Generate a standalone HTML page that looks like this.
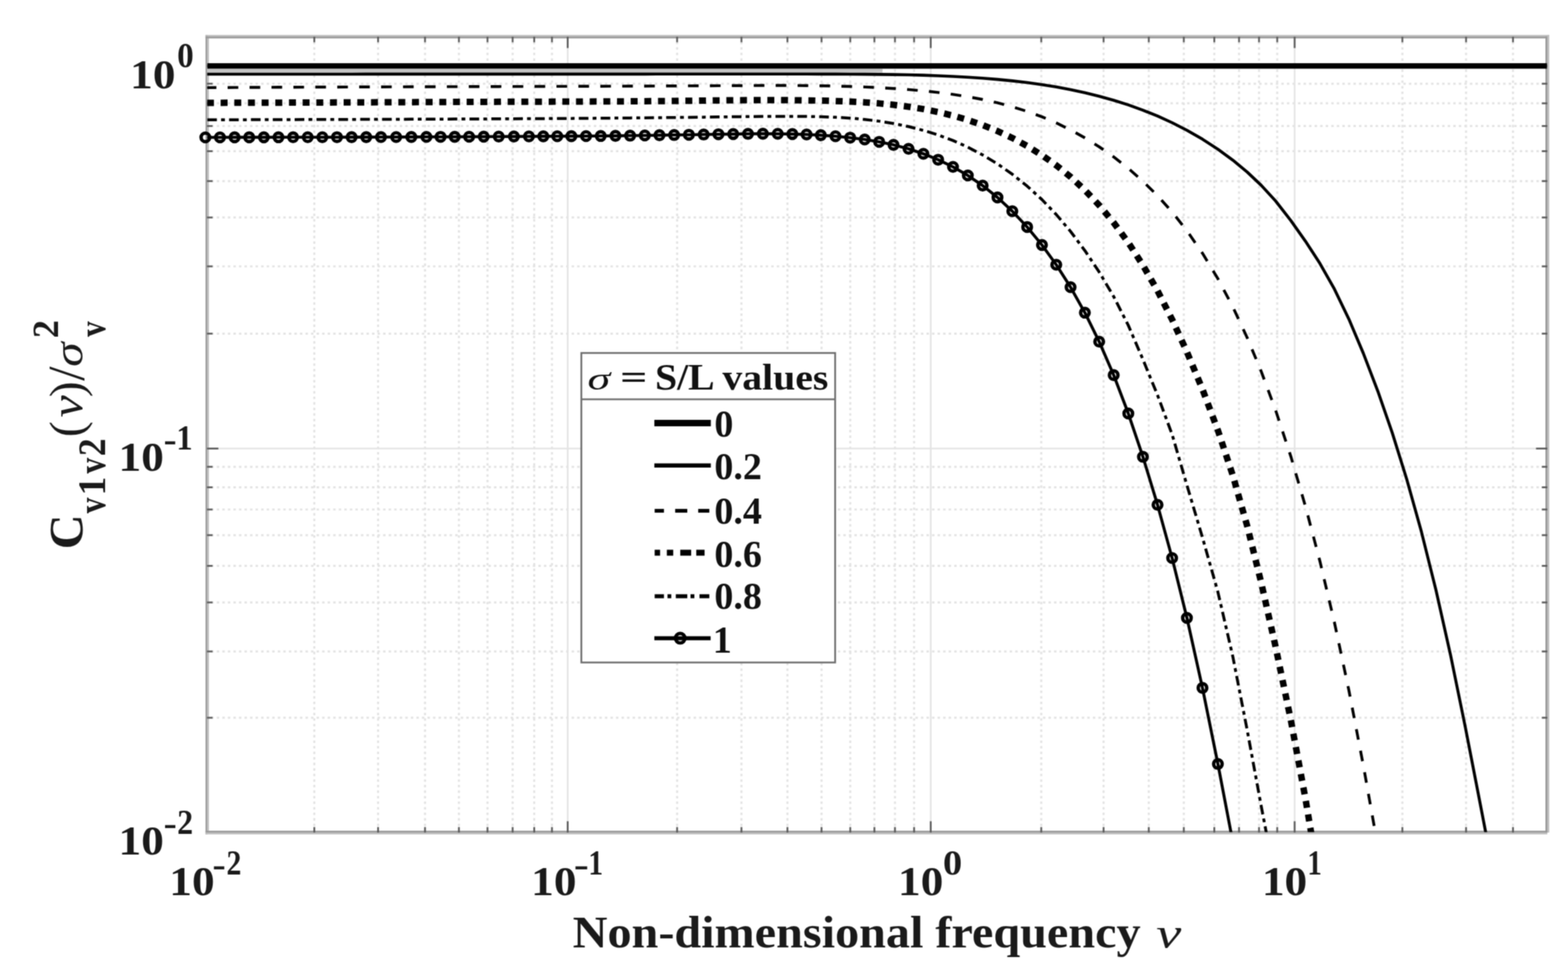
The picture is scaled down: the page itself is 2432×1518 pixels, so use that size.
<!DOCTYPE html><html><head><meta charset="utf-8"><title>C_v1v2 vs non-dimensional frequency</title><style>html,body{margin:0;padding:0;background:#fff;overflow:hidden}svg{display:block}</style></head><body><svg width="2432" height="1518" viewBox="0 0 2432 1518"><defs><filter id="soft" x="0" y="0" width="1" height="1" color-interpolation-filters="sRGB"><feConvolveMatrix order="3" kernelMatrix="1 2 1 2 4 2 1 2 1" divisor="16" edgeMode="duplicate"/></filter></defs><g filter="url(#soft)"><rect width="2432" height="1518" fill="#fff"/><g stroke="#e3e3e3" stroke-width="3.2" stroke-dasharray="3.8 4.8"><line x1="487.5" y1="56.0" x2="487.5" y2="1290.5"/><line x1="586.4" y1="56.0" x2="586.4" y2="1290.5"/><line x1="659.2" y1="56.0" x2="659.2" y2="1290.5"/><line x1="711.8" y1="56.0" x2="711.8" y2="1290.5"/><line x1="756.1" y1="56.0" x2="756.1" y2="1290.5"/><line x1="795.1" y1="56.0" x2="795.1" y2="1290.5"/><line x1="828.6" y1="56.0" x2="828.6" y2="1290.5"/><line x1="856.1" y1="56.0" x2="856.1" y2="1290.5"/><line x1="1050.2" y1="56.0" x2="1050.2" y2="1290.5"/><line x1="1150" y1="56.0" x2="1150" y2="1290.5"/><line x1="1221.3" y1="56.0" x2="1221.3" y2="1290.5"/><line x1="1274.2" y1="56.0" x2="1274.2" y2="1290.5"/><line x1="1318.8" y1="56.0" x2="1318.8" y2="1290.5"/><line x1="1356.2" y1="56.0" x2="1356.2" y2="1290.5"/><line x1="1388.1" y1="56.0" x2="1388.1" y2="1290.5"/><line x1="1417.8" y1="56.0" x2="1417.8" y2="1290.5"/><line x1="1615" y1="56.0" x2="1615" y2="1290.5"/><line x1="1711.7" y1="56.0" x2="1711.7" y2="1290.5"/><line x1="1781.8" y1="56.0" x2="1781.8" y2="1290.5"/><line x1="1836.1" y1="56.0" x2="1836.1" y2="1290.5"/><line x1="1883.4" y1="56.0" x2="1883.4" y2="1290.5"/><line x1="1921.8" y1="56.0" x2="1921.8" y2="1290.5"/><line x1="1952.8" y1="56.0" x2="1952.8" y2="1290.5"/><line x1="1981" y1="56.0" x2="1981" y2="1290.5"/><line x1="2175.1" y1="56.0" x2="2175.1" y2="1290.5"/><line x1="2273.9" y1="56.0" x2="2273.9" y2="1290.5"/><line x1="2346.7" y1="56.0" x2="2346.7" y2="1290.5"/><line x1="319.0" y1="129.8" x2="2399.5" y2="129.8"/><line x1="319.0" y1="160.2" x2="2399.5" y2="160.2"/><line x1="319.0" y1="195.4" x2="2399.5" y2="195.4"/><line x1="319.0" y1="234.4" x2="2399.5" y2="234.4"/><line x1="319.0" y1="280.8" x2="2399.5" y2="280.8"/><line x1="319.0" y1="337.2" x2="2399.5" y2="337.2"/><line x1="319.0" y1="413" x2="2399.5" y2="413"/><line x1="319.0" y1="517.3" x2="2399.5" y2="517.3"/><line x1="319.0" y1="723.8" x2="2399.5" y2="723.8"/><line x1="319.0" y1="755.6" x2="2399.5" y2="755.6"/><line x1="319.0" y1="790" x2="2399.5" y2="790"/><line x1="319.0" y1="829.8" x2="2399.5" y2="829.8"/><line x1="319.0" y1="877.4" x2="2399.5" y2="877.4"/><line x1="319.0" y1="934.1" x2="2399.5" y2="934.1"/><line x1="319.0" y1="1010.1" x2="2399.5" y2="1010.1"/><line x1="319.0" y1="1112.9" x2="2399.5" y2="1112.9"/></g>
<g stroke="#e4e4e4" stroke-width="2.6"><line x1="880.5" y1="56.0" x2="880.5" y2="1290.5"/><line x1="1443.6" y1="56.0" x2="1443.6" y2="1290.5"/><line x1="2008.0" y1="56.0" x2="2008.0" y2="1290.5"/><line x1="319.0" y1="102.3" x2="2399.5" y2="102.3"/><line x1="319.0" y1="695.5" x2="2399.5" y2="695.5"/></g>
<rect x="318.8" y="54.2" width="2.8" height="1239.5" fill="#989898"/><rect x="321.6" y="56.5" width="2.5" height="1234.4" fill="#bebebe"/><rect x="318.8" y="54.2" width="2084.1" height="2.4" fill="#bebebe"/><rect x="318.8" y="56.5" width="2081.1" height="3.0" fill="#989898"/><rect x="2397.0" y="56.5" width="2.9" height="1234.4" fill="#989898"/><rect x="2399.9" y="54.2" width="3.0" height="1236.7" fill="#bebebe"/><rect x="318.8" y="1288.1" width="2081.1" height="2.8" fill="#989898"/><rect x="318.8" y="1290.9" width="2081.1" height="2.8" fill="#bebebe"/>
<g stroke="#5c5c5c" stroke-width="2.8"><line x1="487.5" y1="1290.9" x2="487.5" y2="1282.4"/><line x1="487.5" y1="57.0" x2="487.5" y2="65.5"/><line x1="586.4" y1="1290.9" x2="586.4" y2="1282.4"/><line x1="586.4" y1="57.0" x2="586.4" y2="65.5"/><line x1="659.2" y1="1290.9" x2="659.2" y2="1282.4"/><line x1="659.2" y1="57.0" x2="659.2" y2="65.5"/><line x1="711.8" y1="1290.9" x2="711.8" y2="1282.4"/><line x1="711.8" y1="57.0" x2="711.8" y2="65.5"/><line x1="756.1" y1="1290.9" x2="756.1" y2="1282.4"/><line x1="756.1" y1="57.0" x2="756.1" y2="65.5"/><line x1="795.1" y1="1290.9" x2="795.1" y2="1282.4"/><line x1="795.1" y1="57.0" x2="795.1" y2="65.5"/><line x1="828.6" y1="1290.9" x2="828.6" y2="1282.4"/><line x1="828.6" y1="57.0" x2="828.6" y2="65.5"/><line x1="856.1" y1="1290.9" x2="856.1" y2="1282.4"/><line x1="856.1" y1="57.0" x2="856.1" y2="65.5"/><line x1="880.5" y1="1290.9" x2="880.5" y2="1273.4"/><line x1="880.5" y1="57.0" x2="880.5" y2="74.5"/><line x1="1050.2" y1="1290.9" x2="1050.2" y2="1282.4"/><line x1="1050.2" y1="57.0" x2="1050.2" y2="65.5"/><line x1="1150" y1="1290.9" x2="1150" y2="1282.4"/><line x1="1150" y1="57.0" x2="1150" y2="65.5"/><line x1="1221.3" y1="1290.9" x2="1221.3" y2="1282.4"/><line x1="1221.3" y1="57.0" x2="1221.3" y2="65.5"/><line x1="1274.2" y1="1290.9" x2="1274.2" y2="1282.4"/><line x1="1274.2" y1="57.0" x2="1274.2" y2="65.5"/><line x1="1318.8" y1="1290.9" x2="1318.8" y2="1282.4"/><line x1="1318.8" y1="57.0" x2="1318.8" y2="65.5"/><line x1="1356.2" y1="1290.9" x2="1356.2" y2="1282.4"/><line x1="1356.2" y1="57.0" x2="1356.2" y2="65.5"/><line x1="1388.1" y1="1290.9" x2="1388.1" y2="1282.4"/><line x1="1388.1" y1="57.0" x2="1388.1" y2="65.5"/><line x1="1417.8" y1="1290.9" x2="1417.8" y2="1282.4"/><line x1="1417.8" y1="57.0" x2="1417.8" y2="65.5"/><line x1="1443.6" y1="1290.9" x2="1443.6" y2="1273.4"/><line x1="1443.6" y1="57.0" x2="1443.6" y2="74.5"/><line x1="1615" y1="1290.9" x2="1615" y2="1282.4"/><line x1="1615" y1="57.0" x2="1615" y2="65.5"/><line x1="1711.7" y1="1290.9" x2="1711.7" y2="1282.4"/><line x1="1711.7" y1="57.0" x2="1711.7" y2="65.5"/><line x1="1781.8" y1="1290.9" x2="1781.8" y2="1282.4"/><line x1="1781.8" y1="57.0" x2="1781.8" y2="65.5"/><line x1="1836.1" y1="1290.9" x2="1836.1" y2="1282.4"/><line x1="1836.1" y1="57.0" x2="1836.1" y2="65.5"/><line x1="1883.4" y1="1290.9" x2="1883.4" y2="1282.4"/><line x1="1883.4" y1="57.0" x2="1883.4" y2="65.5"/><line x1="1921.8" y1="1290.9" x2="1921.8" y2="1282.4"/><line x1="1921.8" y1="57.0" x2="1921.8" y2="65.5"/><line x1="1952.8" y1="1290.9" x2="1952.8" y2="1282.4"/><line x1="1952.8" y1="57.0" x2="1952.8" y2="65.5"/><line x1="1981" y1="1290.9" x2="1981" y2="1282.4"/><line x1="1981" y1="57.0" x2="1981" y2="65.5"/><line x1="2008" y1="1290.9" x2="2008" y2="1273.4"/><line x1="2008" y1="57.0" x2="2008" y2="74.5"/><line x1="2175.1" y1="1290.9" x2="2175.1" y2="1282.4"/><line x1="2175.1" y1="57.0" x2="2175.1" y2="65.5"/><line x1="2273.9" y1="1290.9" x2="2273.9" y2="1282.4"/><line x1="2273.9" y1="57.0" x2="2273.9" y2="65.5"/><line x1="2346.7" y1="1290.9" x2="2346.7" y2="1282.4"/><line x1="2346.7" y1="57.0" x2="2346.7" y2="65.5"/><line x1="321.2" y1="102.3" x2="338.7" y2="102.3"/><line x1="2399.9" y1="102.3" x2="2382.4" y2="102.3"/><line x1="321.2" y1="129.8" x2="329.7" y2="129.8"/><line x1="2399.9" y1="129.8" x2="2391.4" y2="129.8"/><line x1="321.2" y1="160.2" x2="329.7" y2="160.2"/><line x1="2399.9" y1="160.2" x2="2391.4" y2="160.2"/><line x1="321.2" y1="195.4" x2="329.7" y2="195.4"/><line x1="2399.9" y1="195.4" x2="2391.4" y2="195.4"/><line x1="321.2" y1="234.4" x2="329.7" y2="234.4"/><line x1="2399.9" y1="234.4" x2="2391.4" y2="234.4"/><line x1="321.2" y1="280.8" x2="329.7" y2="280.8"/><line x1="2399.9" y1="280.8" x2="2391.4" y2="280.8"/><line x1="321.2" y1="337.2" x2="329.7" y2="337.2"/><line x1="2399.9" y1="337.2" x2="2391.4" y2="337.2"/><line x1="321.2" y1="413" x2="329.7" y2="413"/><line x1="2399.9" y1="413" x2="2391.4" y2="413"/><line x1="321.2" y1="517.3" x2="329.7" y2="517.3"/><line x1="2399.9" y1="517.3" x2="2391.4" y2="517.3"/><line x1="321.2" y1="695.5" x2="338.7" y2="695.5"/><line x1="2399.9" y1="695.5" x2="2382.4" y2="695.5"/><line x1="321.2" y1="723.8" x2="329.7" y2="723.8"/><line x1="2399.9" y1="723.8" x2="2391.4" y2="723.8"/><line x1="321.2" y1="755.6" x2="329.7" y2="755.6"/><line x1="2399.9" y1="755.6" x2="2391.4" y2="755.6"/><line x1="321.2" y1="790" x2="329.7" y2="790"/><line x1="2399.9" y1="790" x2="2391.4" y2="790"/><line x1="321.2" y1="829.8" x2="329.7" y2="829.8"/><line x1="2399.9" y1="829.8" x2="2391.4" y2="829.8"/><line x1="321.2" y1="877.4" x2="329.7" y2="877.4"/><line x1="2399.9" y1="877.4" x2="2391.4" y2="877.4"/><line x1="321.2" y1="934.1" x2="329.7" y2="934.1"/><line x1="2399.9" y1="934.1" x2="2391.4" y2="934.1"/><line x1="321.2" y1="1010.1" x2="329.7" y2="1010.1"/><line x1="2399.9" y1="1010.1" x2="2391.4" y2="1010.1"/><line x1="321.2" y1="1112.9" x2="329.7" y2="1112.9"/><line x1="2399.9" y1="1112.9" x2="2391.4" y2="1112.9"/></g>
<clipPath id="cp"><rect x="321.4" y="56.0" width="2078.2" height="1234.2"/></clipPath>
<g clip-path="url(#cp)" fill="none" stroke="#000" stroke-linejoin="round"><rect x="321.4" y="106.6" width="1047.4" height="6.0" fill="#c4c4c4" stroke="none"/><line x1="321.4" y1="102.3" x2="2399.6" y2="102.3" stroke-width="8.6"/><path d="M318.50,115.03 L341.18,115.01 L363.87,115.00 L386.55,114.99 L409.23,114.97 L431.92,114.96 L454.60,114.95 L477.28,114.95 L499.97,114.94 L522.66,114.93 L545.35,114.93 L568.05,114.92 L590.90,114.92 L614.45,114.91 L637.99,114.91 L661.37,114.90 L683.30,114.90 L705.23,114.90 L727.63,114.89 L750.24,114.89 L773.54,114.88 L797.06,114.88 L820.40,114.88 L842.69,114.87 L864.34,114.87 L886.19,114.86 L908.97,114.86 L931.75,114.85 L954.53,114.84 L977.30,114.83 L1000.08,114.83 L1022.86,114.82 L1045.63,114.81 L1068.51,114.79 L1091.41,114.78 L1114.31,114.77 L1137.21,114.75 L1160.17,114.74 L1183.23,114.73 L1206.29,114.73 L1229.00,114.75 L1251.05,114.78 L1273.11,114.83 L1295.83,114.90 L1318.59,114.99 L1341.16,115.13 L1363.62,115.33 L1385.84,115.63 L1409.18,116.06 L1432.21,116.65 L1455.10,117.43 L1478.11,118.43 L1501.11,119.68 L1524.12,121.22 L1547.12,123.09 L1570.13,125.36 L1593.13,128.06 L1616.10,131.24 L1638.29,134.82 L1660.47,138.97 L1682.66,143.73 L1704.85,149.17 L1727.37,155.46 L1750.04,162.65 L1772.71,170.79 L1795.36,179.96 L1818.00,190.27 L1840.94,201.99 L1865.07,215.85 L1888.98,231.34 L1912.15,248.31 L1934.41,266.76 L1956.11,287.23 L1978.38,311.51 L2002.04,341.85 L2024.82,374.05 L2047.25,408.52 L2069.68,448.24 L2092.11,494.68 L2114.53,547.73 L2136.96,606.32 L2159.39,671.01 L2181.89,743.09 L2204.56,824.21 L2227.23,915.01 L2249.90,1016.09 L2272.57,1126.60 L2296.06,1247.47 L2319.60,1369.75" stroke-width="4.6"/><path d="M318.50,135.93 L341.18,135.79 L363.87,135.65 L386.55,135.53 L409.23,135.41 L431.92,135.30 L454.60,135.20 L477.28,135.10 L499.97,135.01 L522.66,134.93 L545.35,134.84 L568.05,134.77 L590.90,134.69 L614.45,134.62 L637.99,134.55 L661.37,134.49 L683.30,134.43 L705.23,134.37 L727.63,134.31 L750.24,134.24 L773.54,134.18 L797.06,134.12 L820.40,134.05 L842.69,133.99 L864.34,133.92 L886.19,133.86 L908.97,133.78 L931.75,133.71 L954.53,133.63 L977.30,133.54 L1000.08,133.45 L1022.86,133.35 L1045.63,133.25 L1068.51,133.13 L1091.41,133.02 L1114.31,132.89 L1137.21,132.76 L1160.17,132.63 L1183.23,132.54 L1206.29,132.50 L1229.00,132.56 L1251.05,132.71 L1273.11,132.99 L1295.83,133.44 L1318.59,134.07 L1341.16,134.90 L1363.62,135.95 L1385.84,137.23 L1409.18,138.89 L1432.21,140.89 L1455.10,143.33 L1478.11,146.32 L1501.11,149.93 L1524.12,154.26 L1547.12,159.41 L1570.13,165.51 L1593.13,172.70 L1616.10,181.12 L1638.29,190.57 L1660.47,201.42 L1682.66,213.72 L1704.85,227.58 L1727.37,243.35 L1750.04,261.13 L1772.71,281.07 L1795.36,303.46 L1818.00,328.74 L1840.94,357.81 L1865.07,392.67 L1888.98,432.19 L1912.15,475.92 L1934.41,523.57 L1956.11,575.76 L1978.38,635.70 L2002.04,707.48 L2024.82,785.25 L2047.25,870.33 L2069.68,964.93 L2092.11,1070.20 L2114.53,1186.71 L2136.96,1312.06" stroke-width="4.4" stroke-dasharray="16.5 17.5" stroke-dashoffset="-0.6"/><path d="M318.50,159.43 L341.18,159.39 L363.87,159.35 L386.55,159.29 L409.23,159.23 L431.92,159.17 L454.60,159.09 L477.28,159.02 L499.97,158.93 L522.66,158.85 L545.35,158.76 L568.05,158.67 L590.90,158.57 L614.45,158.48 L637.99,158.38 L661.37,158.28 L683.30,158.20 L705.23,158.11 L727.63,158.03 L750.24,157.94 L773.54,157.86 L797.06,157.79 L820.40,157.72 L842.69,157.66 L864.34,157.59 L886.19,157.52 L908.97,157.43 L931.75,157.34 L954.53,157.22 L977.30,157.08 L1000.08,156.91 L1022.86,156.72 L1045.63,156.49 L1068.51,156.23 L1091.41,155.97 L1114.31,155.71 L1137.21,155.50 L1160.17,155.33 L1183.23,155.24 L1206.29,155.25 L1229.00,155.38 L1251.05,155.63 L1273.11,156.03 L1295.83,156.63 L1318.59,157.50 L1341.16,158.71 L1363.62,160.36 L1385.84,162.53 L1409.18,165.47 L1432.21,169.16 L1455.10,173.71 L1478.11,179.31 L1501.11,186.02 L1524.12,193.96 L1547.12,203.22 L1570.13,213.96 L1593.13,226.37 L1616.10,240.60 L1638.29,256.32 L1660.47,274.26 L1682.66,294.79 L1704.85,318.20 L1727.37,345.25 L1750.04,376.18 L1772.71,411.27 L1795.36,450.88 L1818.00,495.43 L1840.94,545.67 L1865.07,603.68 L1888.98,667.30 L1912.15,737.26 L1934.41,815.47 L1956.11,903.21 L1978.38,1002.36 L2002.04,1116.22 L2024.82,1238.46 L2047.25,1372.99" stroke-width="10" stroke-dasharray="10.8 10.4" stroke-dashoffset="-2.5"/><path d="M318.50,185.85 L341.18,185.77 L363.87,185.70 L386.55,185.62 L409.23,185.55 L431.92,185.49 L454.60,185.42 L477.28,185.36 L499.97,185.29 L522.66,185.23 L545.35,185.16 L568.05,185.09 L590.90,185.02 L614.45,184.95 L637.99,184.87 L661.37,184.79 L683.30,184.70 L705.23,184.62 L727.63,184.52 L750.24,184.42 L773.54,184.30 L797.06,184.18 L820.40,184.05 L842.69,183.92 L864.34,183.78 L886.19,183.63 L908.97,183.46 L931.75,183.28 L954.53,183.09 L977.30,182.89 L1000.08,182.67 L1022.86,182.44 L1045.63,182.19 L1068.51,181.93 L1091.41,181.65 L1114.31,181.35 L1137.21,181.04 L1160.17,180.76 L1183.23,180.53 L1206.29,180.39 L1229.00,180.38 L1251.05,180.55 L1273.11,180.97 L1295.83,181.81 L1318.59,183.17 L1341.16,185.16 L1363.62,187.89 L1385.84,191.47 L1409.18,196.27 L1432.21,202.17 L1455.10,209.30 L1478.11,217.89 L1501.11,228.14 L1524.12,240.17 L1547.12,254.12 L1570.13,270.17 L1593.13,288.55 L1616.10,309.51 L1638.29,332.63 L1660.47,358.89 L1682.66,388.54 L1704.85,421.82 L1727.37,459.87 L1750.04,504.49 L1772.71,557.33 L1795.36,612.71 L1818.00,673.69 L1840.94,752.31 L1865.07,833.48 L1888.98,917.89 L1912.15,1018.14 L1934.41,1132.04 L1956.11,1249.59 L1978.38,1365.54" stroke-width="4.5" stroke-dasharray="15 6.5 5.9 6.5" stroke-dashoffset="-2.9"/><path d="M318.50,213.02 L341.18,212.96 L363.87,212.92 L386.55,212.88 L409.23,212.84 L431.92,212.81 L454.60,212.78 L477.28,212.75 L499.97,212.71 L522.66,212.68 L545.35,212.64 L568.05,212.59 L590.90,212.53 L614.45,212.46 L637.99,212.38 L661.37,212.29 L683.30,212.19 L705.23,212.08 L727.63,211.96 L750.24,211.84 L773.54,211.72 L797.06,211.60 L820.40,211.48 L842.69,211.37 L864.34,211.26 L886.19,211.14 L908.97,210.98 L931.75,210.80 L954.53,210.58 L977.30,210.31 L1000.08,210.01 L1022.86,209.67 L1045.63,209.30 L1068.51,208.93 L1091.41,208.55 L1114.31,208.18 L1137.21,207.83 L1160.17,207.55 L1183.23,207.40 L1206.29,207.47 L1229.00,207.83 L1251.05,208.52 L1273.11,209.61 L1295.83,211.23 L1318.59,213.43 L1341.16,216.28 L1363.62,219.95 L1385.84,224.60 L1409.18,230.79 L1432.21,238.46 L1455.10,247.69 L1478.11,258.77 L1501.11,272.04 L1524.12,287.77 L1547.12,306.17 L1570.13,327.47 L1593.13,351.95 L1616.10,379.85 L1638.29,410.49 L1660.47,445.26 L1682.66,484.80 L1704.85,529.77 L1727.37,581.67 L1750.04,641.15 L1772.71,708.32 L1795.36,782.77 L1818.00,865.24 L1840.94,958.10 L1865.07,1066.64 L1888.98,1184.56 L1912.15,1305.70" stroke-width="4.6"/></g>
<g fill="none" stroke="#000" stroke-width="5.4"><circle cx="318.50" cy="213.02" r="6.6"/><circle cx="341.18" cy="212.96" r="6.6"/><circle cx="363.87" cy="212.92" r="6.6"/><circle cx="386.55" cy="212.88" r="6.6"/><circle cx="409.23" cy="212.84" r="6.6"/><circle cx="431.92" cy="212.81" r="6.6"/><circle cx="454.60" cy="212.78" r="6.6"/><circle cx="477.28" cy="212.75" r="6.6"/><circle cx="499.97" cy="212.71" r="6.6"/><circle cx="522.66" cy="212.68" r="6.6"/><circle cx="545.35" cy="212.64" r="6.6"/><circle cx="568.05" cy="212.59" r="6.6"/><circle cx="590.90" cy="212.53" r="6.6"/><circle cx="614.45" cy="212.46" r="6.6"/><circle cx="637.99" cy="212.38" r="6.6"/><circle cx="661.37" cy="212.29" r="6.6"/><circle cx="683.30" cy="212.19" r="6.6"/><circle cx="705.23" cy="212.08" r="6.6"/><circle cx="727.63" cy="211.96" r="6.6"/><circle cx="750.24" cy="211.84" r="6.6"/><circle cx="773.54" cy="211.72" r="6.6"/><circle cx="797.06" cy="211.60" r="6.6"/><circle cx="820.40" cy="211.48" r="6.6"/><circle cx="842.69" cy="211.37" r="6.6"/><circle cx="864.34" cy="211.26" r="6.6"/><circle cx="886.19" cy="211.14" r="6.6"/><circle cx="908.97" cy="210.98" r="6.6"/><circle cx="931.75" cy="210.80" r="6.6"/><circle cx="954.53" cy="210.58" r="6.6"/><circle cx="977.30" cy="210.31" r="6.6"/><circle cx="1000.08" cy="210.01" r="6.6"/><circle cx="1022.86" cy="209.67" r="6.6"/><circle cx="1045.63" cy="209.30" r="6.6"/><circle cx="1068.51" cy="208.93" r="6.6"/><circle cx="1091.41" cy="208.55" r="6.6"/><circle cx="1114.31" cy="208.18" r="6.6"/><circle cx="1137.21" cy="207.83" r="6.6"/><circle cx="1160.17" cy="207.55" r="6.6"/><circle cx="1183.23" cy="207.40" r="6.6"/><circle cx="1206.29" cy="207.47" r="6.6"/><circle cx="1229.00" cy="207.83" r="6.6"/><circle cx="1251.05" cy="208.52" r="6.6"/><circle cx="1273.11" cy="209.61" r="6.6"/><circle cx="1295.83" cy="211.23" r="6.6"/><circle cx="1318.59" cy="213.43" r="6.6"/><circle cx="1341.16" cy="216.28" r="6.6"/><circle cx="1363.62" cy="219.95" r="6.6"/><circle cx="1385.84" cy="224.60" r="6.6"/><circle cx="1409.18" cy="230.79" r="6.6"/><circle cx="1432.21" cy="238.46" r="6.6"/><circle cx="1455.10" cy="247.69" r="6.6"/><circle cx="1478.11" cy="258.77" r="6.6"/><circle cx="1501.11" cy="272.04" r="6.6"/><circle cx="1524.12" cy="287.77" r="6.6"/><circle cx="1547.12" cy="306.17" r="6.6"/><circle cx="1570.13" cy="327.47" r="6.6"/><circle cx="1593.13" cy="351.95" r="6.6"/><circle cx="1616.10" cy="379.85" r="6.6"/><circle cx="1638.29" cy="410.49" r="6.6"/><circle cx="1660.47" cy="445.26" r="6.6"/><circle cx="1682.66" cy="484.80" r="6.6"/><circle cx="1704.85" cy="529.77" r="6.6"/><circle cx="1727.37" cy="581.67" r="6.6"/><circle cx="1750.04" cy="641.15" r="6.6"/><circle cx="1772.71" cy="708.32" r="6.6"/><circle cx="1795.36" cy="782.77" r="6.6"/><circle cx="1818.00" cy="865.24" r="6.6"/><circle cx="1840.94" cy="958.10" r="6.6"/><circle cx="1865.07" cy="1066.64" r="6.6"/><circle cx="1888.98" cy="1184.56" r="6.6"/></g>
<g fill="#1a1a1a" font-family="Liberation Serif, Times New Roman, serif"><text transform="translate(201.87,136.80) scale(1.1,1)" font-size="64" font-weight="bold">10</text><text transform="translate(274.64,104.10) scale(0.953,1)" font-size="54" font-weight="bold">0</text><text transform="translate(183.87,730.00) scale(1.1,1)" font-size="64" font-weight="bold">10</text><text transform="translate(253.87,699.70) scale(1.1259,1)" font-size="54" font-weight="bold">-</text><text transform="translate(273.46,697.30) scale(0.9362,1)" font-size="54" font-weight="bold">1</text><text transform="translate(183.77,1325.40) scale(1.1,1)" font-size="64" font-weight="bold">10</text><text transform="translate(253.74,1295.10) scale(1.1407,1)" font-size="54" font-weight="bold">-</text><text transform="translate(274.72,1292.70) scale(0.9169,1)" font-size="54" font-weight="bold">2</text><text transform="translate(262.57,1388.30) scale(1.1,1)" font-size="64" font-weight="bold">10</text><text transform="translate(329.52,1358.90) scale(1.1481,1)" font-size="54" font-weight="bold">-</text><text transform="translate(351.15,1356.30) scale(0.8582,1)" font-size="54" font-weight="bold">2</text><text transform="translate(823.87,1388.30) scale(1.1,1)" font-size="64" font-weight="bold">10</text><text transform="translate(889.90,1358.90) scale(1.2963,1)" font-size="54" font-weight="bold">-</text><text transform="translate(912.53,1356.30) scale(0.8488,1)" font-size="54" font-weight="bold">1</text><text transform="translate(1392.87,1388.30) scale(1.1,1)" font-size="64" font-weight="bold">10</text><text transform="translate(1462.61,1356.30) scale(1.1066,1)" font-size="54" font-weight="bold">0</text><text transform="translate(1957.17,1388.30) scale(1.1,1)" font-size="64" font-weight="bold">10</text><text transform="translate(2027.70,1356.30) scale(0.8333,1)" font-size="54" font-weight="bold">1</text><text transform="translate(888.31,1468.50) scale(1.083,1)" font-size="69" font-weight="bold">Non-dimensional frequency</text><text transform="translate(1793.24,1468.50) scale(1.33,1)" font-size="66" font-style="italic">ν</text></g>
<g fill="#1a1a1a" font-family="Liberation Serif, Times New Roman, serif" transform="translate(128.3,849.0) rotate(-90)"><text transform="translate(-2.75,-0.30) scale(1.0,1)" font-size="75" font-weight="bold">C</text><text transform="translate(53.00,34.30) scale(0.8,1)" font-size="61" font-weight="bold">v</text><text transform="translate(80.91,34.30) scale(0.94,1)" font-size="61" font-weight="bold">1</text><text transform="translate(114.70,34.30) scale(0.8,1)" font-size="61" font-weight="bold">v</text><text transform="translate(141.80,34.30) scale(0.9,1)" font-size="61" font-weight="bold">2</text><text transform="translate(171.24,-0.30) scale(1.0,1)" font-size="74" >(</text><text transform="translate(201.76,-1.30) scale(1.1,1)" font-size="70" font-style="italic">ν</text><text transform="translate(233.08,-0.30) scale(1.0,1)" font-size="74" >)</text><text transform="translate(258.40,1.50) scale(1.0,1)" font-size="80" >/</text><text transform="translate(280.20,-1.30) scale(1.2,1)" font-size="64" font-style="italic">σ</text><text transform="translate(324.66,-37.90) scale(1.0,1)" font-size="56" font-weight="bold">2</text><text transform="translate(326.70,34.30) scale(0.8,1)" font-size="60" font-weight="bold">v</text></g>
<rect x="901.7" y="547.3" width="393.6" height="479.9" fill="#fff" stroke="#6f6f6f" stroke-width="2.8"/><line x1="901.7" y1="619.2" x2="1295.3" y2="619.2" stroke="#6f6f6f" stroke-width="2.8"/><g fill="#111" font-family="Liberation Serif, Times New Roman, serif"><text transform="translate(911.26,604.30) scale(1.4292,1)" font-size="50" font-style="italic">σ</text><text transform="translate(961.68,602.00) scale(1.4316,1)" font-size="52" font-weight="bold">=</text><text transform="translate(1015.92,604.00) scale(1.063,1)" font-size="58" font-weight="bold">S/L values</text><text transform="translate(1107.94,677.00) scale(1.0,1)" font-size="59" font-weight="bold">0</text><text transform="translate(1107.94,742.80) scale(1.0,1)" font-size="59" font-weight="bold">0.2</text><text transform="translate(1107.94,812.40) scale(1.0,1)" font-size="59" font-weight="bold">0.4</text><text transform="translate(1107.94,878.90) scale(1.0,1)" font-size="59" font-weight="bold">0.6</text><text transform="translate(1107.94,944.40) scale(1.0,1)" font-size="59" font-weight="bold">0.8</text><text transform="translate(1105.58,1011.80) scale(1.0,1)" font-size="59" font-weight="bold">1</text></g><g stroke="#000"><line x1="1014.9" y1="656.0" x2="1102.5" y2="656.0" stroke-width="10"/><line x1="1014.9" y1="721.7" x2="1102.5" y2="721.7" stroke-width="6.5"/><line x1="1015.4" y1="792.0" x2="1029.8" y2="792.0" stroke-width="5.8"/><line x1="1047.2" y1="792.0" x2="1066.0" y2="792.0" stroke-width="5.8"/><line x1="1082.9" y1="792.0" x2="1100.2" y2="792.0" stroke-width="5.8"/><line x1="1015.4" y1="857.0" x2="1023.8" y2="857.0" stroke-width="9.2"/><line x1="1034.3" y1="857.0" x2="1044.2" y2="857.0" stroke-width="9.2"/><line x1="1055.1" y1="857.0" x2="1072.0" y2="857.0" stroke-width="9.2"/><line x1="1079.9" y1="857.0" x2="1092.8" y2="857.0" stroke-width="9.2"/><line x1="1015.4" y1="924.5" x2="1029.8" y2="924.5" stroke-width="6.2"/><line x1="1035.3" y1="924.5" x2="1041.2" y2="924.5" stroke-width="6.2"/><line x1="1048.2" y1="924.5" x2="1066.0" y2="924.5" stroke-width="6.2"/><line x1="1071.0" y1="924.5" x2="1077.0" y2="924.5" stroke-width="6.2"/><line x1="1084.9" y1="924.5" x2="1100.2" y2="924.5" stroke-width="6.2"/><line x1="1014.9" y1="989.6" x2="1102.2" y2="989.6" stroke-width="6.2"/></g><circle cx="1055.0" cy="989.6" r="7.4" fill="none" stroke="#000" stroke-width="5.2"/></g></svg></body></html>
